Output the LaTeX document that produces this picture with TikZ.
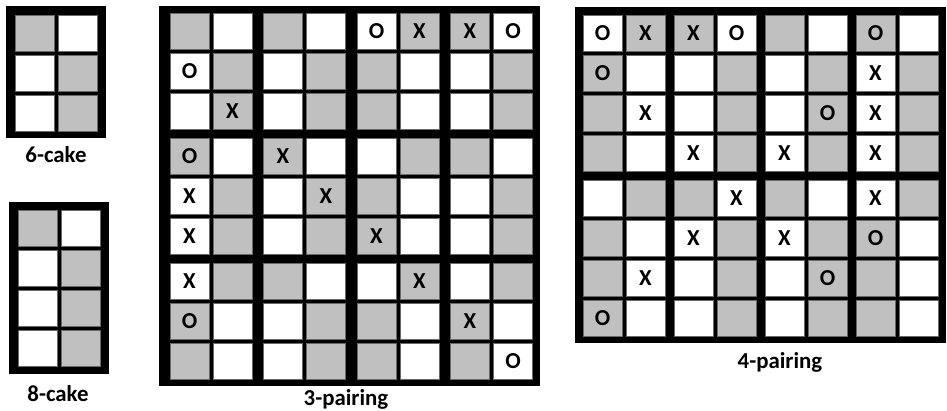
\documentclass[tikz,border=0pt]{standalone}
\usepackage{fontspec}
\setmainfont{Carlito}
\usetikzlibrary{positioning}
\definecolor{g}{RGB}{192,192,192}
\colorlet{w}{white}
\definecolor{cellrim}{RGB}{105,105,105}

\begin{document}
\begin{tikzpicture}[
    x=0.02cm, y=-0.02cm,
    % --- STYLES ---
    board/.style={fill=black, inner sep=0pt},
    cell/.style={draw=cellrim, line width=0.5pt, minimum width=0.78cm, minimum height=0.72cm, inner sep=0pt, font=\bfseries\fontsize{13}{14}\selectfont},
    cake_label/.style={font=\bfseries\fontsize{13}{15}\selectfont, text=black}
]
\useasboundingbox (0,0) rectangle (947,411);

% --- 1. 6-CAKE (top left) ---
\node[board, minimum width=2cm, minimum height=2.64cm] (C6) at (56,72) {};
\foreach \cells [count=\r] in {{g/{},w/{}}, {w/{},g/{}}, {w/{},g/{}}} {
    \foreach \f/\m [count=\c] in \cells {
        \node[cell, fill=\f] (C6-\r-\c) at ({34.5+(\c-1)*43.5}, {33+(\r-1)*40}) {\m};
    }
}
\node[cake_label] (C6lab) at (56,155) {6-cake};

% --- 2. 8-CAKE (bottom left) ---
\node[board, minimum width=2cm, minimum height=3.44cm] (C8) at (59,288) {};
\foreach \cells [count=\r] in {{g/{},w/{}}, {w/{},g/{}}, {w/{},g/{}}, {w/{},g/{}}} {
    \foreach \f/\m [count=\c] in \cells {
        \node[cell, fill=\f] (C8-\r-\c) at ({37.5+(\c-1)*43.5}, {228+(\r-1)*40.3}) {\m};
    }
}
\node[cake_label] (C8lab) at (58,394) {8-cake};

% --- 3. 3-PAIRING (4 x 3 blocks of 6-cakes) ---
\node[board, minimum width=7.62cm, minimum height=7.6cm] (P3) at (349.5,196) {};
\foreach \cells [count=\r] in {
    {g/{},w/{},g/{},w/{},w/O,g/X,g/X,w/O},
    {w/O,g/{},w/{},g/{},g/{},w/{},w/{},g/{}},
    {w/{},g/X,w/{},g/{},g/{},w/{},w/{},g/{}},
    {g/O,w/{},g/X,w/{},w/{},g/{},g/{},w/{}},
    {w/X,g/{},w/{},g/X,g/{},w/{},w/{},g/{}},
    {w/X,g/{},w/{},g/{},g/X,w/{},w/{},g/{}},
    {w/X,g/{},g/{},w/{},w/{},g/X,w/{},g/{}},
    {g/O,w/{},w/{},g/{},g/{},w/{},g/X,w/{}},
    {g/{},w/{},w/{},g/{},g/{},w/{},g/{},w/O}} {
    \foreach \f/\m [count=\c] in \cells {
        \node[cell, fill=\f] (P3-\r-\c) at ({189.5+(\c-1)*43+int((\c-1)/2)*7.5}, {31+(\r-1)*40+int((\r-1)/3)*5}) {\m};
    }
}
\node[cake_label] (P3lab) at (346,399) {3-pairing};

% --- 4. 4-PAIRING (4 x 2 blocks of 8-cakes) ---
\node[board, minimum width=7.42cm, minimum height=6.72cm] (P4) at (760.5,175) {};
\foreach \cells [count=\r] in {
    {w/O,g/X,g/X,w/O,g/{},w/{},g/O,w/{}},
    {g/O,w/{},w/{},g/{},w/{},g/{},w/X,g/{}},
    {g/{},w/X,w/{},g/{},w/{},g/O,w/X,g/{}},
    {g/{},w/{},w/X,g/{},w/X,g/{},w/X,g/{}},
    {w/{},g/{},g/{},w/X,g/{},w/{},w/X,g/{}},
    {g/{},w/{},w/X,g/{},w/X,g/{},g/O,w/{}},
    {g/{},w/X,w/{},g/{},w/{},g/O,g/{},w/{}},
    {g/O,w/{},w/{},g/{},w/{},g/{},g/{},w/{}}} {
    \foreach \f/\m [count=\c] in \cells {
        \node[cell, fill=\f] (P4-\r-\c) at ({602.5+(\c-1)*43+int((\c-1)/2)*5}, {33+(\r-1)*40+int((\r-1)/4)*5.5}) {\m};
    }
}
\node[cake_label] (P4lab) at (780,362) {4-pairing};

\end{tikzpicture}
\end{document}
